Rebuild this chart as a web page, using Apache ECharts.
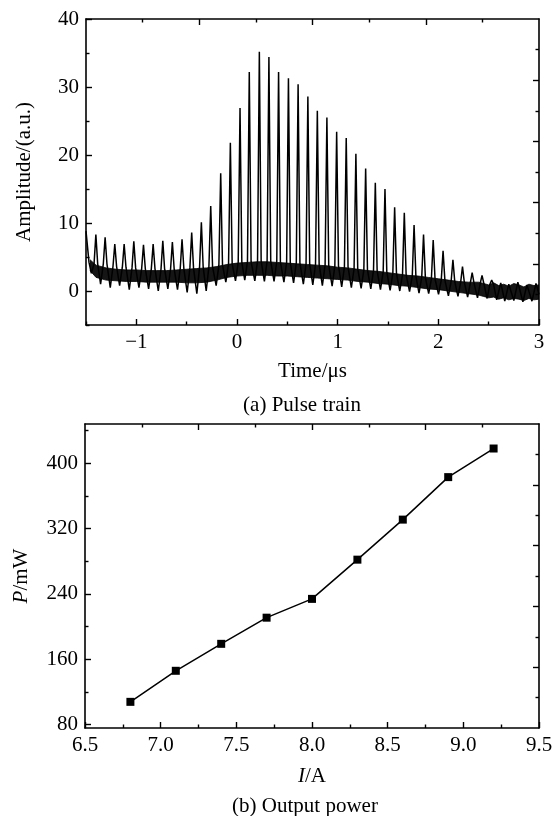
<!DOCTYPE html>
<html>
<head>
<meta charset="utf-8">
<script src="https://cdn.jsdelivr.net/npm/echarts@6/dist/echarts.min.js"></script>
<style>
html, body { margin: 0; padding: 0; background: #fff; }
#chart { width: 558px; height: 816px; }
</style>
</head>
<body>
<div id="chart"></div>
<script>
// (a) pulse train
var leadTime = [-1.5, -1.47];
var leadValue = [8.8, 4.2];
var pulseTime = [-1.402, -1.310, -1.214, -1.121, -1.025, -0.929, -0.833, -0.737, -0.642, -0.546,
  -0.450, -0.354, -0.261, -0.162, -0.066, 0.030, 0.122, 0.222, 0.317, 0.413,
  0.511, 0.607, 0.704, 0.798, 0.893, 0.990, 1.085, 1.181, 1.278, 1.374,
  1.470, 1.566, 1.662, 1.759, 1.853, 1.949, 2.047, 2.145, 2.240, 2.336,
  2.434, 2.530];
var pulsePeak = [8.3, 7.9, 6.9, 6.9, 7.3, 6.8, 6.9, 7.4, 7.2, 7.6,
  8.6, 10.1, 12.5, 17.3, 21.8, 26.9, 32.2, 35.2, 34.4, 32.2,
  31.3, 30.4, 28.6, 26.5, 25.5, 23.4, 22.5, 20.2, 18.0, 15.9,
  15.0, 12.3, 11.5, 9.7, 8.3, 7.5, 5.9, 4.6, 3.6, 2.7,
  2.3, 1.6];
var pulseLow = [2.6, 1.0, 0.5, 0.8, 0.2, 0.5, 0.3, 0.0, 0.3, 0.2,
  -0.2, -0.4, 0.0, 0.8, 1.3, 1.5, 1.6, 1.5, 1.4, 1.4,
  1.3, 1.2, 1.0, 0.9, 0.8, 0.7, 0.6, 0.5, 0.4, 0.3,
  0.2, 0.1, 0.0, -0.1, -0.3, -0.4, -0.5, -0.7, -0.8, -0.9,
  -1.0, -1.1];
var pulseBase = [4.0, 4.0, 3.6, 3.5, 3.4, 3.3, 3.3, 3.2, 3.2, 3.3,
  3.4, 3.5, 3.6, 3.8, 4.0, 4.2, 4.3, 4.4, 4.4, 4.3,
  4.2, 4.1, 4.0, 3.9, 3.8, 3.7, 3.5, 3.3, 3.1, 3.0,
  2.8, 2.6, 2.4, 2.2, 2.0, 1.8, 1.6, 1.4, 1.3, 1.2,
  1.1, 1.0];
var tailTime = [2.58, 2.62, 2.66, 2.70, 2.75, 2.79, 2.84, 2.88, 2.93, 2.97, 3.0];
var tailValue = [-1.3, 1.2, -1.5, 1.0, -1.4, 1.3, -1.6, 0.9, -1.5, 1.1, -0.5];
// noise band under the pulses
var bandTime = [-1.46, -1.4, -1.3, -1.2, -1.1, -1.0, -0.9, -0.8, -0.7, -0.6,
  -0.5, -0.4, -0.3, -0.2, -0.1, 0.0, 0.1, 0.2, 0.3, 0.4,
  0.5, 0.6, 0.7, 0.8, 0.9, 1.0, 1.1, 1.2, 1.3, 1.4,
  1.5, 1.6, 1.7, 1.8, 1.9, 2.0, 2.1, 2.2, 2.3, 2.4,
  2.45, 2.5, 2.55, 2.6, 2.65, 2.7, 2.75, 2.8, 2.85, 2.9,
  2.95, 3.0];
var bandLow = [3.0, 2.0, 1.6, 1.5, 1.4, 1.4, 1.3, 1.3, 1.3, 1.3,
  1.2, 1.2, 1.3, 1.6, 2.0, 2.2, 2.3, 2.3, 2.3, 2.2,
  2.2, 2.1, 2.0, 1.9, 1.8, 1.7, 1.6, 1.4, 1.3, 1.1,
  1.0, 0.8, 0.7, 0.5, 0.3, 0.2, 0.0, -0.2, -0.4, -0.6,
  -0.8, -1.0, -0.9, -1.2, -1.0, -1.3, -1.1, -1.2, -1.4, -1.1,
  -1.3, -1.2];
var bandHigh = [4.6, 3.8, 3.4, 3.2, 3.1, 3.1, 3.0, 3.0, 3.0, 3.1,
  3.2, 3.3, 3.4, 3.6, 3.9, 4.1, 4.2, 4.3, 4.3, 4.2,
  4.1, 4.0, 3.9, 3.8, 3.7, 3.5, 3.4, 3.2, 3.0, 2.9,
  2.7, 2.5, 2.3, 2.2, 2.0, 1.8, 1.6, 1.4, 1.3, 1.3,
  1.1, 0.9, 1.2, 0.8, 1.0, 0.7, 1.1, 0.9, 0.6, 1.0,
  0.8, 0.9];
var timeTicks = [-1, 0, 1, 2, 3];
var timeMinor = [-1.5, -0.5, 0.5, 1.5, 2.5];
var ampTicks = [0, 10, 20, 30, 40];
var ampMinor = [-5, 5, 15, 25, 35];

// (b) output power
var current = [6.8, 7.1, 7.4, 7.7, 8.0, 8.3, 8.6, 8.9, 9.2];
var power = [108, 146, 179, 211, 234, 282, 331, 383, 418];
var currentTicks = [6.5, 7.0, 7.5, 8.0, 8.5, 9.0, 9.5];
var currentMinor = [6.75, 7.25, 7.75, 8.25, 8.75, 9.25];
var powerTicks = [80, 160, 240, 320, 400];
var powerMinor = [120, 200, 280, 360, 440];

// mirror axes on top / right (own tick spacing)
var topMajor = [2, 4, 6];
var topMinor = [1, 3, 5, 7];
var rightMajor = [2, 4, 6, 8];
var rightMinor = [1, 3, 5, 7, 9];

var FONT = '"Times New Roman", "Liberation Serif", serif';
var FS = 21;
var RISE = 0.018, DIP = 0.045;   // spike shape (µs)

var xAxes = [], yAxes = [];
function addAxis(list, o) {
  list.push({
    type: 'value', gridIndex: o.grid, position: o.pos, min: o.min, max: o.max, z: 10,
    name: o.name, nameLocation: 'middle', nameGap: o.gap,
    nameTextStyle: { fontFamily: FONT, fontSize: FS, color: '#000',
      rich: { i: { fontFamily: FONT, fontSize: FS, fontStyle: 'italic', color: '#000' } } },
    axisLine: { show: !!o.line, onZero: false, lineStyle: { color: '#000', width: 1.6 } },
    axisTick: { show: true, inside: true, length: o.len, customValues: o.ticks,
      lineStyle: { color: '#000', width: 1.4 } },
    axisLabel: o.fmt ? { show: true, customValues: o.ticks, formatter: o.fmt, margin: 7,
      fontFamily: FONT, fontSize: FS, color: '#000' } : { show: false },
    splitLine: { show: false }
  });
  return list.length - 1;
}
function minus(v) { return String(v).replace('-', '\u2212'); }
function oneDec(v) { return v.toFixed(1); }

// grid 0 axes
var ax0 = addAxis(xAxes, { grid: 0, pos: 'bottom', min: -1.5, max: 3, ticks: timeTicks, len: 6, line: true, fmt: minus, name: 'Time/μs', gap: 36 });
addAxis(xAxes, { grid: 0, pos: 'bottom', min: -1.5, max: 3, ticks: timeMinor, len: 3.5 });
addAxis(xAxes, { grid: 0, pos: 'top', min: 0, max: 8, ticks: topMajor, len: 6, line: true });
addAxis(xAxes, { grid: 0, pos: 'top', min: 0, max: 8, ticks: topMinor, len: 3.5 });
var ay0 = addAxis(yAxes, { grid: 0, pos: 'left', min: -5, max: 40, ticks: ampTicks, len: 6, line: true, fmt: String, name: 'Amplitude/(a.u.)', gap: 51 });
addAxis(yAxes, { grid: 0, pos: 'left', min: -5, max: 40, ticks: ampMinor, len: 3.5 });
addAxis(yAxes, { grid: 0, pos: 'right', min: 0, max: 10, ticks: rightMajor, len: 6, line: true });
addAxis(yAxes, { grid: 0, pos: 'right', min: 0, max: 10, ticks: rightMinor, len: 3.5 });
// grid 1 axes
var ax1 = addAxis(xAxes, { grid: 1, pos: 'bottom', min: 6.5, max: 9.5, ticks: currentTicks, len: 6, line: true, fmt: oneDec, name: '{i|I}/A', gap: 38 });
addAxis(xAxes, { grid: 1, pos: 'bottom', min: 6.5, max: 9.5, ticks: currentMinor, len: 3.5 });
addAxis(xAxes, { grid: 1, pos: 'top', min: 0, max: 8, ticks: topMajor, len: 6, line: true });
addAxis(xAxes, { grid: 1, pos: 'top', min: 0, max: 8, ticks: topMinor, len: 3.5 });
var ay1 = addAxis(yAxes, { grid: 1, pos: 'left', min: 76, max: 448, ticks: powerTicks, len: 6, line: true, fmt: String, name: '{i|P}/mW', gap: 53 });
addAxis(yAxes, { grid: 1, pos: 'left', min: 76, max: 448, ticks: powerMinor, len: 3.5 });
addAxis(yAxes, { grid: 1, pos: 'right', min: 0, max: 10, ticks: rightMajor, len: 6, line: true });
addAxis(yAxes, { grid: 1, pos: 'right', min: 0, max: 10, ticks: rightMinor, len: 3.5 });

var pulseData = leadTime.map(function (t, i) { return [t, leadValue[i]]; });
pulseTime.forEach(function (t, i) {
  pulseData.push([t - DIP, pulseLow[i]], [t - RISE, pulseBase[i]], [t, pulsePeak[i]], [t + RISE, pulseBase[i]]);
});
tailTime.forEach(function (t, i) { pulseData.push([t, tailValue[i]]); });

var chart = echarts.init(document.getElementById('chart'));
chart.setOption({
  backgroundColor: '#fff',
  animation: false,
  grid: [
    { left: 86, top: 19, width: 453, height: 306 },
    { left: 85, top: 424, width: 454, height: 304 }
  ],
  xAxis: xAxes,
  yAxis: yAxes,
  graphic: [
    { type: 'text', x: 302, y: 405, style: { text: '(a) Pulse train', font: FS + 'px ' + FONT, fill: '#000', align: 'center', verticalAlign: 'middle' } },
    { type: 'text', x: 305, y: 806, style: { text: '(b) Output power', font: FS + 'px ' + FONT, fill: '#000', align: 'center', verticalAlign: 'middle' } }
  ],
  series: [
    {
      // upper edge of the noise band, filled down
      type: 'line', xAxisIndex: ax0, yAxisIndex: ay0,
      data: bandTime.map(function (t, i) { return [t, bandHigh[i]]; }),
      symbol: 'none', lineStyle: { color: '#000', width: 0.8 },
      areaStyle: { color: '#151515', opacity: 1, origin: 'start' }, silent: true
    },
    {
      // lower edge, cleared below
      type: 'line', xAxisIndex: ax0, yAxisIndex: ay0,
      data: bandTime.map(function (t, i) { return [t, bandLow[i]]; }),
      symbol: 'none', lineStyle: { color: '#000', width: 0.8 },
      areaStyle: { color: '#fff', opacity: 1, origin: 'start' }, silent: true
    },
    {
      type: 'line', xAxisIndex: ax0, yAxisIndex: ay0, data: pulseData,
      symbol: 'none', lineStyle: { color: '#000', width: 1.5 }
    },
    {
      type: 'line', xAxisIndex: ax1, yAxisIndex: ay1,
      data: current.map(function (c, i) { return [c, power[i]]; }),
      symbol: 'rect', symbolSize: 8, itemStyle: { color: '#000' },
      lineStyle: { color: '#000', width: 1.5 }
    }
  ]
});
</script>
</body>
</html>
